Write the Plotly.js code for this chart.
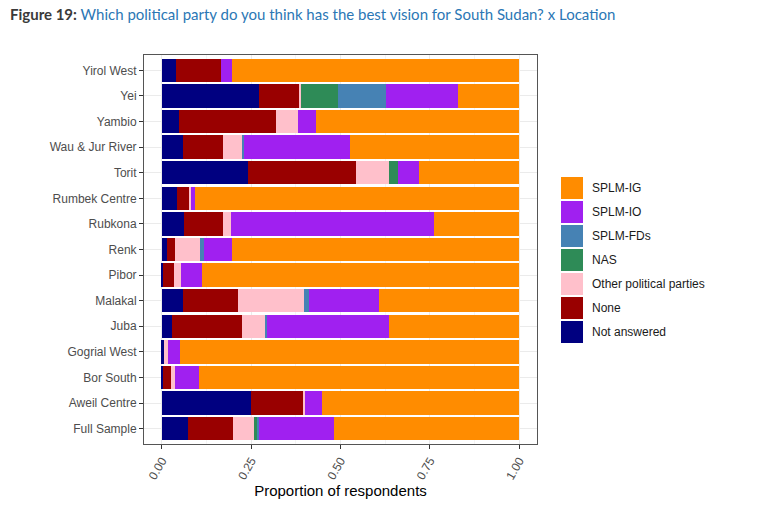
<!DOCTYPE html>
<html>
<head>
<meta charset="utf-8">
<script src="https://cdn.plot.ly/plotly-3.0.1.min.js"></script>
<style>
  html, body { margin: 0; padding: 0; background: #fff; }
  #chart { width: 768px; height: 509px; }
</style>
</head>
<body>
<div id="chart"></div>
<script>
// Locations, top to bottom as drawn
const locations = [
    'Yirol West', 'Yei', 'Yambio', 'Wau & Jur River', 'Torit', 'Rumbek Centre',
    'Rubkona', 'Renk', 'Pibor', 'Malakal', 'Juba', 'Gogrial West', 'Bor South',
    'Aweil Centre', 'Full Sample'
];

// Answer shares per location (same order as locations)
const notAnswered = [0.040, 0.271, 0.049, 0.058, 0.240, 0.041, 0.061, 0.013, 0.003, 0.059, 0.029, 0.005, 0.002, 0.249, 0.073];
const none        = [0.126, 0.114, 0.271, 0.113, 0.302, 0.035, 0.109, 0.025, 0.031, 0.155, 0.194, 0.000, 0.023, 0.146, 0.127];
const otherParty  = [0.000, 0.004, 0.061, 0.055, 0.093, 0.005, 0.023, 0.069, 0.019, 0.185, 0.067, 0.012, 0.013, 0.007, 0.057];
const nas         = [0.000, 0.105, 0.000, 0.000, 0.027, 0.000, 0.000, 0.000, 0.000, 0.000, 0.000, 0.000, 0.000, 0.000, 0.008];
const splmFDs     = [0.000, 0.132, 0.000, 0.004, 0.000, 0.000, 0.000, 0.011, 0.000, 0.014, 0.005, 0.000, 0.000, 0.000, 0.008];
const splmIO      = [0.030, 0.202, 0.050, 0.297, 0.057, 0.013, 0.570, 0.079, 0.058, 0.196, 0.341, 0.034, 0.066, 0.046, 0.209];
const splmIG      = [0.804, 0.172, 0.569, 0.473, 0.281, 0.906, 0.237, 0.803, 0.889, 0.391, 0.364, 0.949, 0.896, 0.552, 0.518];

// Stack order (left to right)
const series = [
    { name: 'Not answered', values: notAnswered, color: '#000080' },
    { name: 'None', values: none, color: '#990000' },
    { name: 'Other political parties', values: otherParty, color: '#FFC0CB' },
    { name: 'NAS', values: nas, color: '#2E8B57' },
    { name: 'SPLM-FDs', values: splmFDs, color: '#4682B4' },
    { name: 'SPLM-IO', values: splmIO, color: '#A020F0' },
    { name: 'SPLM-IG', values: splmIG, color: '#FF8C00' }
];

const xTicks = [0, 0.25, 0.5, 0.75, 1];
const xTickText = ['0.00', '0.25', '0.50', '0.75', '1.00'];

// Page geometry
const W = 768, H = 509;
const margin = { l: 144, r: 231, t: 55, b: 65 };
const plotW = W - margin.l - margin.r;
const plotH = H - margin.t - margin.b;
const px = x => (x - margin.l) / plotW;
const py = y => 1 - (y - margin.t) / plotH;

const traces = series.map(s => ({
    type: 'bar',
    orientation: 'h',
    name: s.name,
    x: s.values,
    y: locations,
    marker: { color: s.color, line: { width: 0 } },
    hovertemplate: '%{y}<br>' + s.name + ': %{x:.3f}<extra></extra>'
}));

// Legend drawn by hand to get the large ggplot-style keys (top: SPLM-IG)
const shapes = [];
const annotations = [];
const legendItems = series.slice().reverse();
legendItems.forEach((s, i) => {
    const top = 177 + i * 24;
    shapes.push({
        type: 'rect', xref: 'paper', yref: 'paper',
        x0: px(561), x1: px(583), y0: py(top), y1: py(top + 22),
        fillcolor: s.color, line: { width: 0 }
    });
    annotations.push({
        xref: 'paper', yref: 'paper', x: px(590), y: py(top + 11),
        xanchor: 'left', yanchor: 'middle', showarrow: false,
        text: s.name,
        font: { family: 'Liberation Sans, Arial, sans-serif', size: 12, color: '#1a1a1a' }
    });
});

const layout = {
    width: W,
    height: H,
    margin: margin,
    plot_bgcolor: '#ffffff',
    paper_bgcolor: '#ffffff',
    font: { family: 'Liberation Sans, Arial, sans-serif', color: '#4d4d4d' },
    barmode: 'stack',
    bargap: 0.09,
    showlegend: false,
    title: {
        text: '<b>Figure 19:</b> <span style="color:#2b77b5">Which political party do you think has the best vision for South Sudan? x Location</span>',
        font: { family: 'Lato, Open Sans, sans-serif', size: 15, color: '#3a3a3a' },
        xref: 'container', yref: 'container',
        x: 0.013, xanchor: 'left',
        y: 1 - 15 / H, yanchor: 'middle'
    },
    xaxis: {
        range: [-0.05, 1.05],
        tickvals: xTicks,
        ticktext: xTickText,
        tickangle: -60,
        tickfont: { size: 12, color: '#4d4d4d' },
        ticks: 'outside',
        ticklen: 4,
        tickcolor: '#333333',
        showgrid: true,
        gridcolor: '#ebebeb',
        minor: { tickvals: [0.125, 0.375, 0.625, 0.875], showgrid: true, gridcolor: '#f5f5f5' },
        zeroline: false,
        showline: true,
        linecolor: '#555555',
        mirror: true,
        title: {
            text: 'Proportion of respondents',
            font: { size: 15, color: '#000000' },
            standoff: 4
        }
    },
    yaxis: {
        type: 'category',
        categoryorder: 'array',
        categoryarray: locations,
        range: [locations.length - 0.4, -0.6],
        tickfont: { size: 12, color: '#4d4d4d' },
        ticks: 'outside',
        ticklen: 4,
        tickcolor: '#333333',
        showgrid: true,
        gridcolor: '#ebebeb',
        zeroline: false,
        showline: true,
        linecolor: '#555555',
        mirror: true
    },
    shapes: shapes,
    annotations: annotations
};

Plotly.newPlot('chart', traces, layout, { displayModeBar: false, responsive: false });
</script>
</body>
</html>
